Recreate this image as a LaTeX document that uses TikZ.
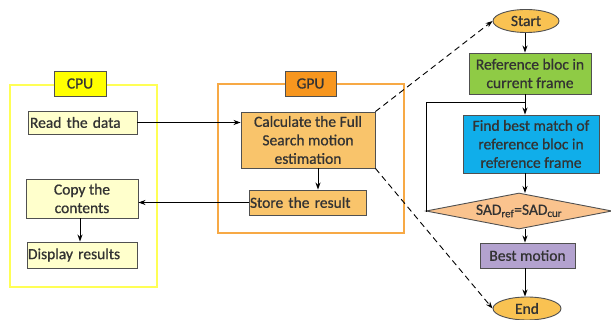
\documentclass[tikz,border=0pt]{standalone}
\usepackage{fontspec}
\setmainfont{Carlito}[FakeBold=0.8]
\usetikzlibrary{shapes.geometric,arrows.meta}
\definecolor{cpuline}{HTML}{FFFF55}
\definecolor{cpufill}{HTML}{FFFF00}
\definecolor{cpubox}{HTML}{FFFFCC}
\definecolor{gpuline}{HTML}{F7A945}
\definecolor{gpufill}{HTML}{F7961E}
\definecolor{gpubox}{HTML}{F9C46B}
\definecolor{termfill}{HTML}{F9C252}
\definecolor{greenfill}{HTML}{8FCB45}
\definecolor{bluefill}{HTML}{10AEEA}
\definecolor{peach}{HTML}{FAC38E}
\definecolor{purplefill}{HTML}{B3A2CF}
\definecolor{txt}{HTML}{333333}
\definecolor{edge}{HTML}{505050}
\tikzset{
  box/.style={draw=edge, line width=0.9pt, text=txt, inner sep=0pt, align=center, font=\fontsize{15.5}{18.5}\selectfont},
  lbox/.style={box, align=left, text width=#1, inner xsep=2pt},
  term/.style={ellipse, draw=edge, line width=0.9pt, fill=termfill, text=txt, inner sep=0pt, font=\fontsize{15.5}{18.5}\selectfont},
  arr/.style={-{Stealth[length=7pt,width=5pt]}, line width=0.9pt, black},
  darr/.style={arr, dashed, dash pattern=on 6pt off 4pt},
  frame/.style={line width=2.6pt}
}
\begin{document}
\begin{tikzpicture}[x=1pt,y=-1pt]
\useasboundingbox (0,0) rectangle (611,320);
% CPU frame
\draw[frame, draw=cpuline] (10,85) rectangle (157,287);
\node[box, fill=cpufill, minimum width=52pt, minimum height=25pt] (cpu) at (80,83.5) {CPU};
\node[lbox=105pt, fill=cpubox, minimum height=23pt] (read) at (82.5,122.5) {Read the data};
\node[box, fill=cpubox, minimum width=112pt, minimum height=39pt] (copy) at (82,198.5) {Copy the\\contents};
\node[lbox=108pt, fill=cpubox, minimum height=26pt, inner xsep=1pt] (disp) at (82,255) {Display results};
% GPU frame
\draw[frame, draw=gpuline] (218,84) rectangle (404,233);
\node[box, fill=gpufill, minimum width=51pt, minimum height=25pt] (gpu) at (310.5,83.5) {GPU};
\node[box, fill=gpubox, minimum width=134pt, minimum height=56pt] (calc) at (308,140) {Calculate the Full\\Search motion\\estimation};
\node[lbox=115pt, fill=gpubox, minimum height=25pt, inner xsep=1pt] (store) at (307.5,202.5) {Store the result};
% flowchart
\node[term, minimum width=66pt, minimum height=23pt] (start) at (526,21) {Start};
\node[box, fill=greenfill, minimum width=122pt, minimum height=41pt] (refb) at (530,73.5) {Reference bloc in\\current frame};
\node[box, fill=bluefill, minimum width=136pt, minimum height=58pt] (find) at (531,144) {Find best match of\\reference bloc in\\reference frame};
\node[diamond, box, fill=peach, minimum width=186pt, minimum height=36pt, aspect=5] (sad) at (519,211) {SAD\textsubscript{ref}=SAD\textsubscript{cur}};
\node[box, fill=purplefill, minimum width=95pt, minimum height=25pt] (best) at (527.5,255.5) {Best motion};
\node[term, minimum width=68pt, minimum height=23pt] (end) at (527,308.5) {End};
% connectors
\draw[arr] (read.east) -- (calc.west |- read.east);
\draw[arr] (store.west) -- (copy.east |- store.west);
\draw[arr] (copy.south -| 80,0) -- (disp.north -| 80,0);
\draw[arr] (calc.south -| 318,0) -- (store.north -| 318,0);
\draw[darr] (calc.north east) -- (start.west);
\draw[darr] (calc.south east) -- (end.west);
\draw[arr] (start.south -| 525,0) -- (refb.north -| 525,0);
\draw[arr] (refb.south -| 525,0) -- (find.north -| 525,0);
\draw[arr] (find.south -| 525,0) -- (525,193);
\draw[arr] (525,229) -- (best.north -| 525,0);
\draw[arr] (best.south -| 525,0) -- (end.north -| 525,0);
\coordinate (loopA) at (426,102);
\draw[line width=0.9pt, black] (sad.west) -- (426,211) -- (loopA) -- (525,102);
\end{tikzpicture}
\end{document}
